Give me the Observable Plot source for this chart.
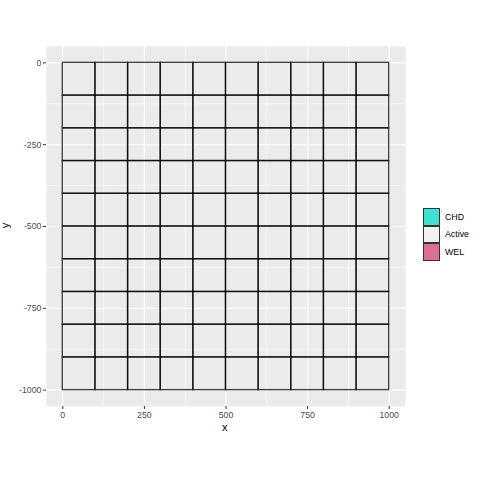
<!DOCTYPE html>
<html>
<head>
<meta charset="utf-8">
<script src="https://cdn.jsdelivr.net/npm/d3@7"></script>
<script src="https://cdn.jsdelivr.net/npm/@observablehq/plot@0.6"></script>
<style>
  body { margin: 0; background: #fff; }
  #wrap { position: relative; width: 480px; height: 480px; font-family: "Liberation Sans", Arial, sans-serif; }
  #wrap svg { position: absolute; left: 0; top: 0; }
  .lab { position: absolute; font-size: 11px; color: #000; line-height: 1; }
  .leg { position: absolute; left: 423px; top: 208px; }
  .item { display: flex; align-items: center; height: 17.6px; }
  .key { width: 15px; height: 15.6px; border: 1px solid #333; box-sizing: content-box; }
  .txt { font-size: 8.8px; color: #000; margin-left: 5px; }
</style>
</head>
<body>
<div id="wrap"></div>
<script>
// Grid cell origins (lower-left corners in model coordinates)
const cellX = [0, 100, 200, 300, 400, 500, 600, 700, 800, 900];
const cellY = [0, -100, -200, -300, -400, -500, -600, -700, -800, -900];
const cellSize = 100;
// Legend categories and colours
const categories = ["CHD", "Active", "WEL"];
const catColors = ["#40E0D0", "#F2F2F2", "#DB7093"];
// Axis ticks
const xTicks = [0, 250, 500, 750, 1000];
const yTicks = [0, -250, -500, -750, -1000];
const xMinor = [-125, 125, 375, 625, 875];
const yMinor = [125, -125, -375, -625, -875];

const cells = [];
for (const x of cellX) for (const y of cellY)
  cells.push({x1: x, x2: x + cellSize, y1: y, y2: y - cellSize, status: "Active"});

const chart = Plot.plot({
  width: 480, height: 480,
  marginLeft: 46, marginRight: 75, marginTop: 46, marginBottom: 74,
  style: {fontFamily: "Liberation Sans, Arial, sans-serif", background: "transparent"},
  x: {domain: [-50, 1050], label: null},
  y: {domain: [-1050, 50], label: null},
  marks: [
    Plot.frame({fill: "#EBEBEB", stroke: null}),
    Plot.gridX(xMinor, {stroke: "#fff", strokeOpacity: 1, strokeWidth: 0.55}),
    Plot.gridY(yMinor, {stroke: "#fff", strokeOpacity: 1, strokeWidth: 0.55}),
    Plot.gridX(xTicks, {stroke: "#fff", strokeOpacity: 1, strokeWidth: 1.1}),
    Plot.gridY(yTicks, {stroke: "#fff", strokeOpacity: 1, strokeWidth: 1.1}),
    Plot.rect(cells, {x1: "x1", x2: "x2", y1: "y1", y2: "y2", fill: "none", stroke: "#000", strokeOpacity: 0.72, strokeWidth: 1.4}),
    Plot.axisX(xTicks, {tickSize: 3, text: null, stroke: "#333", strokeOpacity: 1, label: null}),
    Plot.axisY(yTicks, {tickSize: 3, text: null, stroke: "#333", strokeOpacity: 1, label: null}),
    Plot.axisX(xTicks, {tickSize: 0, tickPadding: 5, fill: "#4D4D4D", fontSize: 8.8, label: null, tickFormat: d => String(d)}),
    Plot.axisY(yTicks, {tickSize: 0, tickPadding: 5, fill: "#4D4D4D", fontSize: 8.8, label: null, tickFormat: d => String(d)})
  ]
});

const wrap = document.getElementById("wrap");
wrap.appendChild(chart);

const xl = document.createElement("div");
xl.className = "lab"; xl.textContent = "x";
xl.style.left = "222px"; xl.style.top = "422px";
wrap.appendChild(xl);

const yl = document.createElement("div");
yl.className = "lab"; yl.textContent = "y";
yl.style.left = "3px"; yl.style.top = "220px"; yl.style.transform = "rotate(-90deg)";
wrap.appendChild(yl);

const leg = document.createElement("div");
leg.className = "leg";
categories.forEach((c, i) => {
  const it = document.createElement("div"); it.className = "item";
  const k = document.createElement("div"); k.className = "key"; k.style.background = catColors[i];
  const t = document.createElement("div"); t.className = "txt"; t.textContent = c;
  it.appendChild(k); it.appendChild(t); leg.appendChild(it);
});
wrap.appendChild(leg);
</script>
</body>
</html>
